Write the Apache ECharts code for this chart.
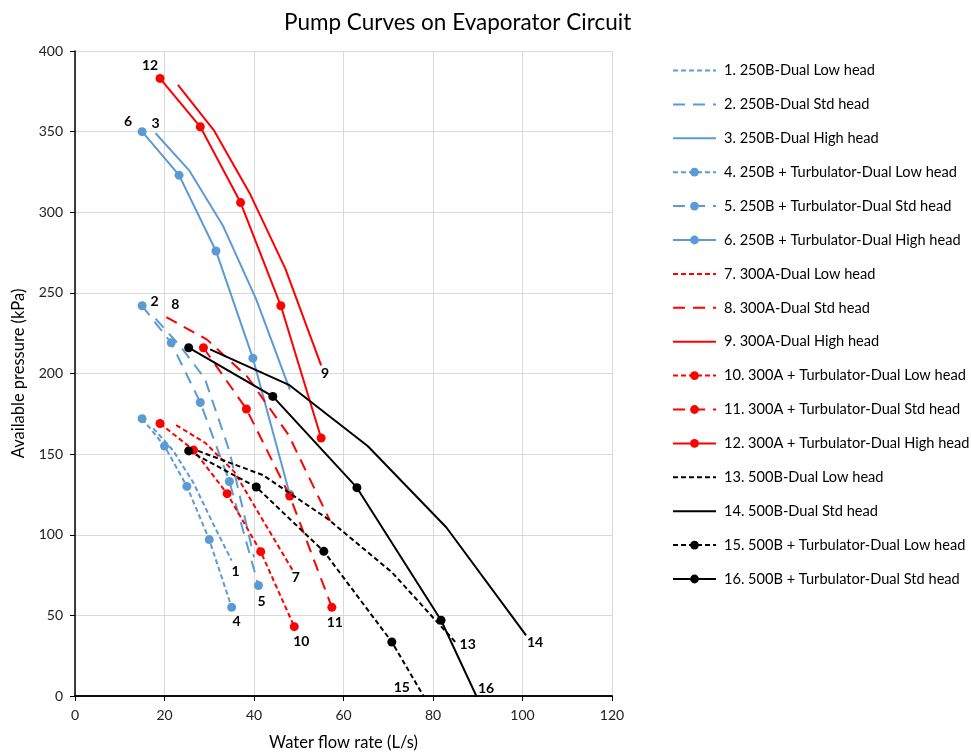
<!DOCTYPE html>
<html>
<head>
<meta charset="utf-8">
<script src="https://cdn.jsdelivr.net/npm/echarts@6/dist/echarts.min.js"></script>
<style>
  html, body { margin: 0; padding: 0; background: #fff; }
  #chart { width: 971px; height: 756px; }
</style>
</head>
<body>
<div id="chart"></div>
<script>
// Pump curve data: water flow rate (L/s) and available pressure (kPa)
const seriesNames = [
  '1. 250B-Dual Low head',
  '2. 250B-Dual Std head',
  '3. 250B-Dual High head',
  '4. 250B + Turbulator-Dual Low head',
  '5. 250B + Turbulator-Dual Std head',
  '6. 250B + Turbulator-Dual High head',
  '7. 300A-Dual Low head',
  '8. 300A-Dual Std head',
  '9. 300A-Dual High head',
  '10. 300A + Turbulator-Dual Low head',
  '11. 300A + Turbulator-Dual Std head',
  '12. 300A + Turbulator-Dual High head',
  '13. 500B-Dual Low head',
  '14. 500B-Dual Std head',
  '15. 500B + Turbulator-Dual Low head',
  '16. 500B + Turbulator-Dual Std head'
];

const flow01 = [17.5, 22, 26.5, 31, 35];
const head01 = [166, 152, 132, 106, 84];
const flow02 = [18, 23.5, 29, 34.5, 40];
const head02 = [234, 217, 197, 152, 86];
const flow03 = [18, 25.5, 33, 40.5, 48];
const head03 = [349, 326, 292, 246, 190];
const flow04 = [15, 20, 25, 30, 35];
const head04 = [172, 155, 130, 97, 55];
const flow05 = [15, 21.5, 28, 34.5, 41];
const head05 = [242, 219, 182, 133, 68.5];
const flow06 = [15, 23.25, 31.5, 39.75, 48];
const head06 = [350, 323, 276, 209.5, 125];
const flow07 = [22.6, 29.1, 35.6, 42.2, 48.7];
const head07 = [168, 157, 139, 108, 77.7];
const flow08 = [20.4, 29.5, 38.5, 47.7, 57];
const head08 = [235, 221, 198, 162, 108.6];
const flow09 = [23, 31, 39, 47, 55];
const head09 = [379, 351, 312, 265, 205];
const flow10 = [19, 26.5, 34, 41.5, 49];
const head10 = [169, 152.5, 125.5, 89.5, 43];
const flow11 = [28.7, 38.3, 48, 57.4];
const head11 = [216, 178, 124, 55];
const flow12 = [19, 28, 37, 46, 55];
const head12 = [383, 353, 306, 242, 160];
const flow13 = [27.5, 42, 56.4, 70.9, 85.3];
const head13 = [152, 137, 110, 76.5, 32.5];
const flow14 = [30.2, 47.8, 65.4, 83, 100.8];
const head14 = [215, 193, 155, 104.5, 37.6];
const flow15 = [25.4, 40.5, 55.6, 70.8, 85.9];
const head15 = [152, 129.6, 89.7, 33.5, -38];
const flow16 = [25.4, 44.2, 63, 81.8, 100.6];
const head16 = [216, 185.8, 129.2, 47, -65];

const flows = [flow01, flow02, flow03, flow04, flow05, flow06, flow07, flow08,
               flow09, flow10, flow11, flow12, flow13, flow14, flow15, flow16];
const heads = [head01, head02, head03, head04, head05, head06, head07, head08,
               head09, head10, head11, head12, head13, head14, head15, head16];

// Styling
const BLUE = '#5B9BD5', RED = '#FF0000', BLACK = '#000000';
const SHORT = [5, 3], LONG = [12, 8];
const FONT = 'Lato, "Open Sans", sans-serif';

const styles = [
  { color: BLUE,  dash: SHORT,   marker: false },
  { color: BLUE,  dash: LONG,    marker: false },
  { color: BLUE,  dash: 'solid', marker: false },
  { color: BLUE,  dash: SHORT,   marker: true  },
  { color: BLUE,  dash: LONG,    marker: true  },
  { color: BLUE,  dash: 'solid', marker: true  },
  { color: RED,   dash: SHORT,   marker: false },
  { color: RED,   dash: LONG,    marker: false },
  { color: RED,   dash: 'solid', marker: false },
  { color: RED,   dash: SHORT,   marker: true  },
  { color: RED,   dash: LONG,    marker: true  },
  { color: RED,   dash: 'solid', marker: true  },
  { color: BLACK, dash: SHORT,   marker: false },
  { color: BLACK, dash: 'solid', marker: false },
  { color: BLACK, dash: SHORT,   marker: true  },
  { color: BLACK, dash: 'solid', marker: true  }
];

// Curve number tag: which point it sits next to, and pixel offset from it
const tags = [
  { at: 'last',  offset: [4, 11] },
  { at: 0,       offset: [-1, -17] },
  { at: 0,       offset: [0, -10] },
  { at: 'last',  offset: [5, 14] },
  { at: 'last',  offset: [3, 16] },
  { at: 0,       offset: [-14, -10] },
  { at: 'last',  offset: [3, 7] },
  { at: 0,       offset: [9, -13] },
  { at: 'last',  offset: [4, 8] },
  { at: 'last',  offset: [7, 15] },
  { at: 'last',  offset: [3, 15] },
  { at: 0,       offset: [-10, -13] },
  { at: 'last',  offset: [11, 1] },
  { at: 'last',  offset: [9, 7] },
  { at: 3,       offset: [10, 46] },
  { at: 3,       offset: [45, 68] }
];

const series = seriesNames.map((name, i) => {
  const st = styles[i];
  const xs = flows[i], ys = heads[i];
  const tagIdx = tags[i].at === 'last' ? xs.length - 1 : tags[i].at;
  const data = xs.map((x, k) => {
    const item = { value: [x, ys[k]] };
    if (k === tagIdx) {
      item.label = {
        show: true,
        position: 'inside',
        offset: tags[i].offset,
        formatter: String(i + 1),
        color: '#000',
        fontWeight: 'bold',
        fontSize: 14,
        fontFamily: FONT
      };
    }
    return item;
  });
  return {
    name: name,
    type: 'line',
    data: data,
    symbol: 'circle',
    symbolSize: st.marker ? 9 : 0,
    showSymbol: true,
    clip: true,
    smooth: false,
    lineStyle: { color: st.color, width: 2, type: st.dash },
    itemStyle: { color: st.color },
    emphasis: { disabled: true },
    animation: false,
    z: 2 + i * 0.01
  };
});

const legendData = seriesNames.map((name, i) =>
  styles[i].marker ? { name: name } : { name: name, itemStyle: { opacity: 0 } }
);

const chart = echarts.init(document.getElementById('chart'), null, { renderer: 'canvas' });
chart.setOption({
  backgroundColor: '#ffffff',
  animation: false,
  title: {
    text: 'Pump Curves on Evaporator Circuit',
    left: 279,
    top: 6,
    textStyle: { fontFamily: FONT, fontSize: 22.5, fontWeight: 'normal', color: '#000' }
  },
  legend: {
    orient: 'vertical',
    left: 667,
    top: 58,
    itemWidth: 43,
    itemHeight: 11,
    itemGap: 18.9,
    data: legendData,
    textStyle: { fontFamily: FONT, fontSize: 14.6, color: '#000', padding: [0, 0, 0, 3] },
    selectedMode: false
  },
  grid: { left: 75, top: 51, width: 537, height: 648, containLabel: false },
  xAxis: [
    {
      type: 'value',
      min: 0, max: 120, interval: 20,
      name: 'Water flow rate (L/s)',
      nameLocation: 'middle',
      nameGap: 38,
      nameTextStyle: { fontFamily: FONT, fontSize: 16.5, color: '#000' },
      axisLine: { show: true, onZero: false, lineStyle: { color: '#000', width: 1.5 } },
      axisTick: { show: true, length: 5, lineStyle: { color: '#000' } },
      axisLabel: { fontFamily: FONT, fontSize: 14, color: '#222', margin: 12 },
      splitLine: { show: true, lineStyle: { color: '#D9D9D9', width: 1 } }
    },
    {
      type: 'value',
      position: 'top',
      min: 0, max: 120, interval: 20,
      axisLine: { show: true, lineStyle: { color: '#000', width: 1.5 } },
      axisTick: { show: false },
      axisLabel: { show: false },
      splitLine: { show: false }
    }
  ],
  yAxis: {
    type: 'value',
    min: 0, max: 400, interval: 50,
    name: 'Available pressure (kPa)',
    nameLocation: 'middle',
    nameGap: 48,
    nameTextStyle: { fontFamily: FONT, fontSize: 16.5, color: '#000' },
    axisLine: { show: true, onZero: false, lineStyle: { color: '#000', width: 1.5 } },
    axisTick: { show: true, length: 5, lineStyle: { color: '#000' } },
    axisLabel: { fontFamily: FONT, fontSize: 14, color: '#222', margin: 12 },
    splitLine: { show: true, lineStyle: { color: '#D9D9D9', width: 1 } }
  },
  series: series
});
</script>
</body>
</html>
